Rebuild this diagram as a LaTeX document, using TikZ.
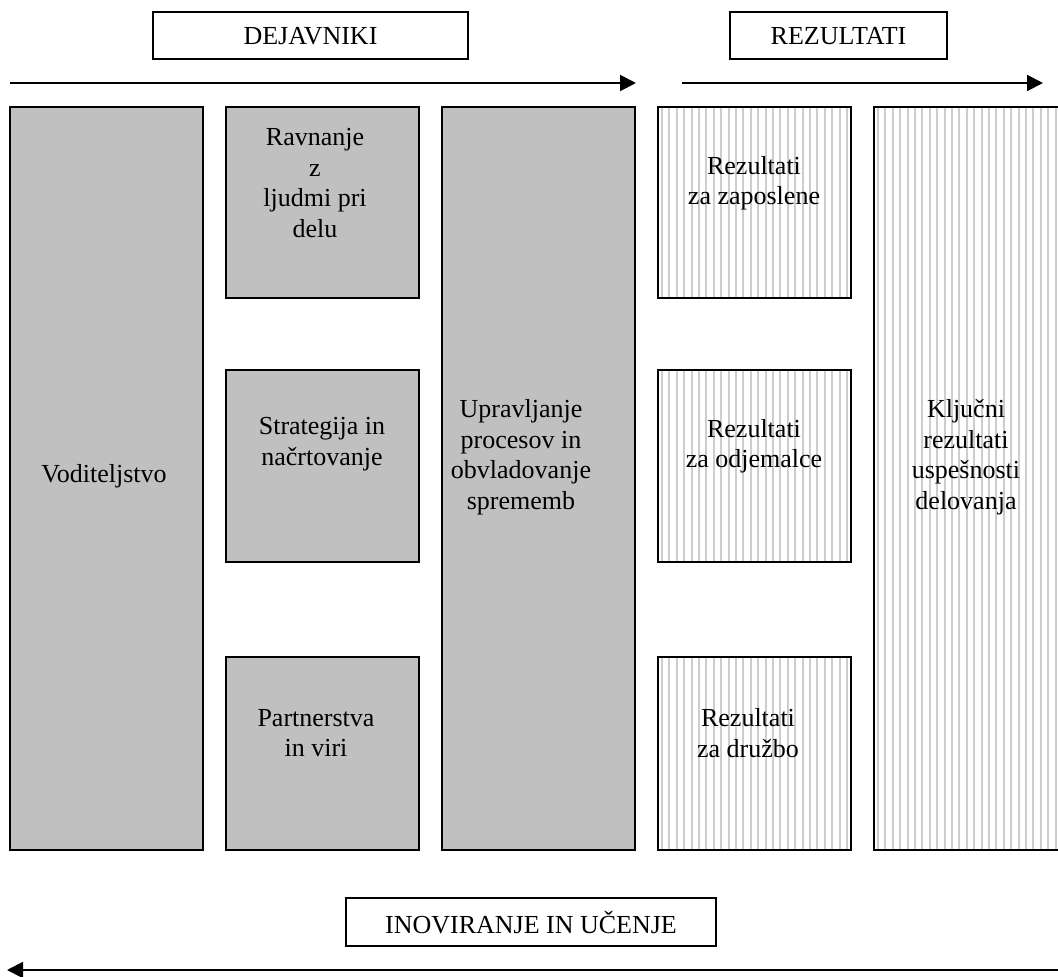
\documentclass[tikz,border=0pt]{standalone}
\usepackage{fontspec}
\setmainfont{Liberation Serif}
\usetikzlibrary{arrows.meta}
\definecolor{boxgray}{RGB}{192,192,192}
\definecolor{hatchgray}{RGB}{205,205,205}
\begin{document}
\begin{tikzpicture}[x=1pt,y=-1pt,
  every node/.style={inner sep=0pt, outer sep=0pt},
  factor/.style={draw=black, line width=1.6pt, fill=boxgray},
  result/.style={draw=black, line width=1.6pt, fill=white,
    path picture={
      \foreach \i in {0,...,30}{
        \draw[hatchgray, line width=2pt]
          ([xshift=4pt+\i*7.4pt]path picture bounding box.north west) --
          ([xshift=4pt+\i*7.4pt]path picture bounding box.south west);
      }}},
  headbox/.style={draw=black, line width=1.3pt, fill=white},
  txt/.style={align=center, font=\fontsize{26}{30.5}\selectfont},
  flow/.style={line width=2pt, -{Triangle[length=16pt,width=16pt]}}
]
\useasboundingbox (0,0) rectangle (1058,977);

% headings
\node[headbox, minimum width=315pt, minimum height=47pt] (dej) at (310.5,35.5) {};
\node[txt] (dejt) at (310.5,36) {DEJAVNIKI};
\node[headbox, minimum width=217pt, minimum height=47pt] (rez) at (838.5,35.5) {};
\node[txt] (rezt) at (838.5,36) {REZULTATI};

% flow arrows along the top
\coordinate (fa1) at (10,83);
\coordinate (fa2) at (636,83);
\coordinate (ra1) at (682,83);
\coordinate (ra2) at (1043,83);
\draw[flow] (fa1) -- (fa2);
\draw[flow] (ra1) -- (ra2);

% enablers
\node[factor, minimum width=193pt, minimum height=743pt] (vod) at (106.5,478.5) {};
\node[factor, minimum width=193pt, minimum height=191pt] (ljud) at (322.5,202.5) {};
\node[factor, minimum width=193pt, minimum height=192pt] (strat) at (322.5,466) {};
\node[factor, minimum width=193pt, minimum height=193pt] (part) at (322.5,753.5) {};
\node[factor, minimum width=193pt, minimum height=743pt] (proc) at (538.5,478.5) {};

% results
\node[result, minimum width=193pt, minimum height=191pt] (rzap) at (754.5,202.5) {};
\node[result, minimum width=193pt, minimum height=192pt] (rodj) at (754.5,466) {};
\node[result, minimum width=193pt, minimum height=193pt] (rdru) at (754.5,753.5) {};
\node[result, minimum width=196pt, minimum height=743pt] (rklj) at (972,478.5) {};

% labels
\node[txt] (vodt) at (104,476) {Voditeljstvo};
\node[txt] (ljudt) at (315,183) {Ravnanje\\z\\ljudmi pri\\delu};
\node[txt] (stratt) at (322,444) {Strategija in\\načrtovanje};
\node[txt] (partt) at (316,733) {Partnerstva\\in viri};
\node[txt] (proct) at (521,457) {Upravljanje\\procesov in\\obvladovanje\\sprememb};
\node[txt] (rzapt) at (754,183) {Rezultati\\za zaposlene};
\node[txt] (rodjt) at (754,446) {Rezultati\\za odjemalce};
\node[txt] (rdrut) at (748,733) {Rezultati\\za družbo};
\node[txt] (rkljt) at (966,457) {Ključni\\rezultati\\uspešnosti\\delovanja};

% learning loop
\node[headbox, minimum width=370pt, minimum height=48pt] (ino) at (531,922) {};
\node[txt] (inot) at (531,922.5) {INOVIRANJE IN UČENJE};
\coordinate (la1) at (1058,970);
\coordinate (la2) at (7,970);
\draw[flow] (la1) -- (la2);
\end{tikzpicture}
\end{document}
